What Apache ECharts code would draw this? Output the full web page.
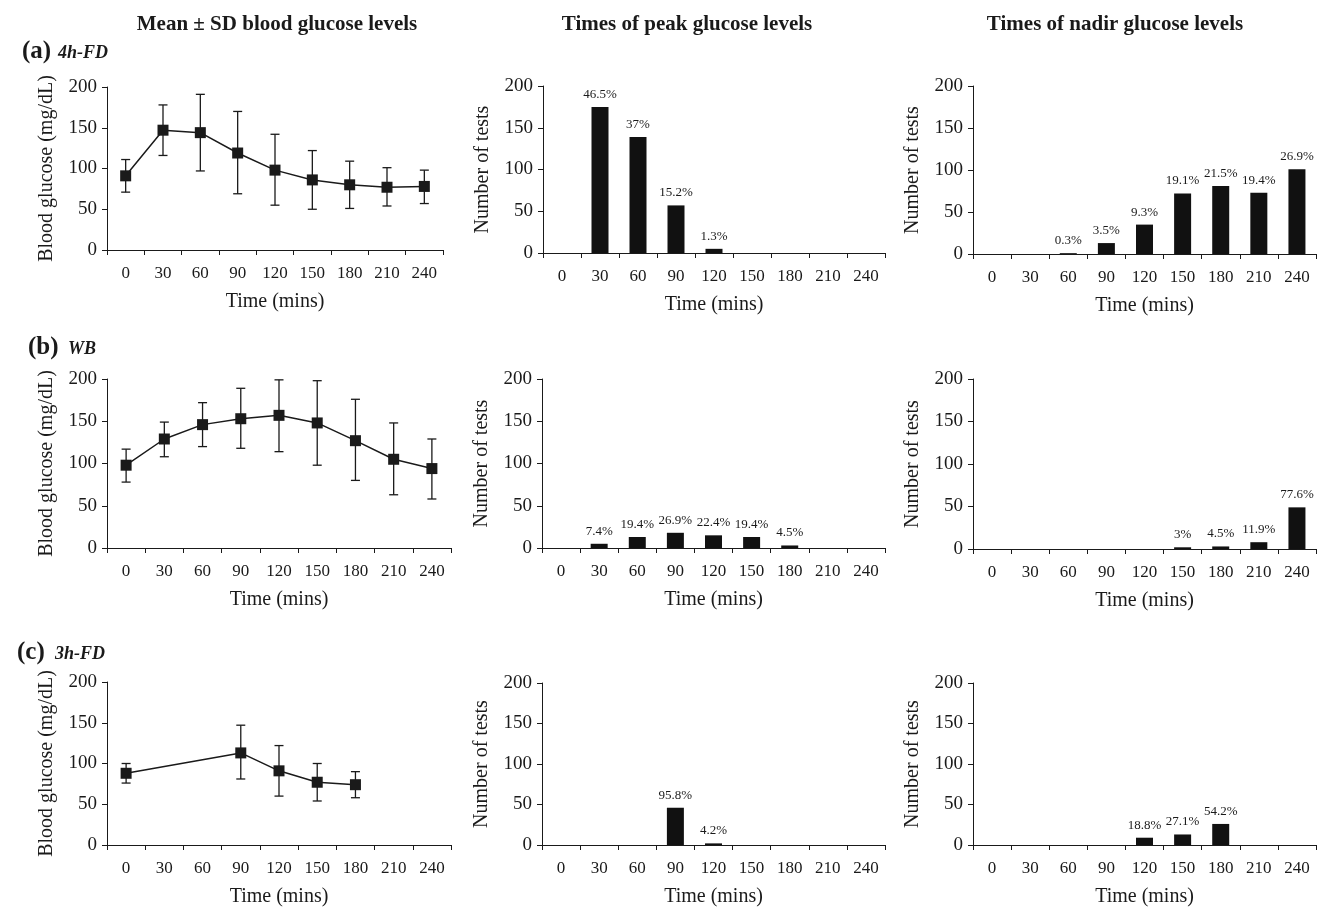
<!DOCTYPE html>
<html>
<head>
<meta charset="utf-8">
<script src="https://cdn.jsdelivr.net/npm/echarts@6/dist/echarts.min.js"></script>
<style>
html,body{margin:0;padding:0;background:#fff;}
#chart{width:1322px;height:908px;}
</style>
</head>
<body>
<div id="chart"></div>
<script>
// ---- Data ----
const timeLabels = ['0','30','60','90','120','150','180','210','240'];
const yTicks = [0, 50, 100, 150, 200];

// (a) 4h-FD mean ± SD
const fd4Mean = [91, 147, 144, 119, 98, 86, 80, 77, 78];
const fd4Low  = [71, 116, 97, 69, 55, 50, 51, 54, 57];
const fd4High = [111, 178, 191, 170, 142, 122, 109, 101, 98];
const fd4Peak = [null, 175, 139, 57, 5, null, null, null, null];
const fd4PeakPct = ['', '46.5%', '37%', '15.2%', '1.3%', '', '', '', ''];
const fd4Nadir = [null, null, 1, 13, 35, 72, 81, 73, 101];
const fd4NadirPct = ['', '', '0.3%', '3.5%', '9.3%', '19.1%', '21.5%', '19.4%', '26.9%'];

// (b) WB
const wbMean = [98, 129, 146, 153, 157, 148, 127, 105, 94];
const wbLow  = [78, 108, 120, 118, 114, 98, 80, 63, 58];
const wbHigh = [117, 149, 172, 189, 199, 198, 176, 148, 129];
const wbPeak = [null, 5, 13, 18, 15, 13, 3, null, null];
const wbPeakPct = ['', '7.4%', '19.4%', '26.9%', '22.4%', '19.4%', '4.5%', '', ''];
const wbNadir = [null, null, null, null, null, 2, 3, 8, 49];
const wbNadirPct = ['', '', '', '', '', '3%', '4.5%', '11.9%', '77.6%'];

// (c) 3h-FD
const fd3Mean = [88, null, null, 113, 91, 77, 74, null, null];
const fd3Low  = [76, null, null, 81, 60, 54, 58, null, null];
const fd3High = [100, null, null, 147, 122, 100, 90, null, null];
const fd3Peak = [null, null, null, 46, 2, null, null, null, null];
const fd3PeakPct = ['', '', '', '95.8%', '4.2%', '', '', '', ''];
const fd3Nadir = [null, null, null, null, 9, 13, 26, null, null];
const fd3NadirPct = ['', '', '', '', '18.8%', '27.1%', '54.2%', '', ''];

const colTitles = ['Mean \u00B1 SD blood glucose levels', 'Times of peak glucose levels', 'Times of nadir glucose levels'];
const rowLabels = [['(a)', '4h-FD'], ['(b)', 'WB'], ['(c)', '3h-FD']];

// ---- Layout ----
const FONT = '"Liberation Serif", "Times New Roman", serif';
const INK = '#1a1a1a';
const grids = [
  {left:107, top:87,  width:336, height:163},
  {left:543, top:86,  width:342, height:167},
  {left:973, top:86,  width:343, height:168},
  {left:107, top:379, width:344, height:169},
  {left:542, top:379, width:343, height:169},
  {left:973, top:379, width:343, height:170},
  {left:107, top:682, width:344, height:170},
  {left:542, top:683, width:343, height:167},
  {left:973, top:683, width:343, height:168}
];

const xAxes = grids.map((g, i) => ({
  type:'category', gridIndex:i, data:timeLabels, boundaryGap:true,
  axisLine:{lineStyle:{color:INK, width:1}},
  axisTick:{show:true, interval:0, length:5, lineStyle:{color:INK, width:1}},
  axisLabel:{interval:0, color:INK, fontFamily:FONT, fontSize:17, margin:15},
  name:'Time (mins)', nameLocation:'middle', nameGap:42,
  nameTextStyle:{color:INK, fontFamily:FONT, fontSize:20},
  splitLine:{show:false}
}));
const yAxes = grids.map((g, i) => ({
  type:'value', gridIndex:i, min:yTicks[0], max:yTicks[yTicks.length-1], interval:50,
  axisLine:{show:true, lineStyle:{color:INK, width:1}},
  axisTick:{show:true, length:5, lineStyle:{color:INK, width:1}},
  axisLabel:{color:INK, fontFamily:FONT, fontSize:19, margin:10},
  splitLine:{show:false},
  name: (i % 3 === 0) ? 'Blood glucose (mg/dL)' : 'Number of tests',
  nameLocation:'middle', nameGap:50, nameRotate:90,
  nameTextStyle:{color:INK, fontFamily:FONT, fontSize:20}
}));

function errSeries(idx, lo, hi) {
  const data = [];
  lo.forEach((v, i) => { if (v != null) data.push([i, v, hi[i]]); });
  return {
    type:'custom', xAxisIndex:idx, yAxisIndex:idx, z:3,
    data: data, encode:{x:0, y:[1,2]},
    renderItem: function(params, api) {
      const x = api.value(0);
      const p1 = api.coord([x, api.value(2)]);
      const p2 = api.coord([x, api.value(1)]);
      const w = 4.5;
      const st = {stroke:INK, lineWidth:1.3};
      return {type:'group', children:[
        {type:'line', shape:{x1:p1[0], y1:p1[1], x2:p2[0], y2:p2[1]}, style:st},
        {type:'line', shape:{x1:p1[0]-w, y1:p1[1], x2:p1[0]+w, y2:p1[1]}, style:st},
        {type:'line', shape:{x1:p2[0]-w, y1:p2[1], x2:p2[0]+w, y2:p2[1]}, style:st}
      ]};
    }
  };
}
function lineSeries(idx, mean) {
  return {
    type:'line', xAxisIndex:idx, yAxisIndex:idx, z:4,
    data: mean.map(v => v == null ? '-' : v), connectNulls:true,
    symbol:'rect', symbolSize:11, showSymbol:true,
    lineStyle:{color:INK, width:1.5}, itemStyle:{color:INK},
    animation:false
  };
}
function barSeries(idx, vals, pct) {
  return {
    type:'bar', xAxisIndex:idx, yAxisIndex:idx, barWidth:17,
    data: vals.map(v => v == null ? '-' : v),
    itemStyle:{color:'#111'},
    label:{show:true, position:'top', distance:6, color:INK, fontFamily:FONT, fontSize:13,
      formatter: p => pct[p.dataIndex]},
    animation:false
  };
}

const series = [
  errSeries(0, fd4Low, fd4High), lineSeries(0, fd4Mean),
  barSeries(1, fd4Peak, fd4PeakPct), barSeries(2, fd4Nadir, fd4NadirPct),
  errSeries(3, wbLow, wbHigh), lineSeries(3, wbMean),
  barSeries(4, wbPeak, wbPeakPct), barSeries(5, wbNadir, wbNadirPct),
  errSeries(6, fd3Low, fd3High), lineSeries(6, fd3Mean),
  barSeries(7, fd3Peak, fd3PeakPct), barSeries(8, fd3Nadir, fd3NadirPct)
];

const titleX = [277, 687, 1115];
const rowPos = [
  {x:22, y:52, sx:58},
  {x:28, y:348, sx:68},
  {x:17, y:653, sx:55}
];
const graphic = [];
colTitles.forEach((t, i) => graphic.push({
  type:'text', x:titleX[i], y:25,
  style:{text:t, fill:INK, font:'bold 21px ' + FONT, textAlign:'center', textVerticalAlign:'middle'}
}));
rowLabels.forEach((r, i) => {
  graphic.push({type:'text', x:rowPos[i].x, y:rowPos[i].y,
    style:{text:r[0], fill:INK, font:'bold 25px ' + FONT, textAlign:'left', textVerticalAlign:'middle'}});
  graphic.push({type:'text', x:rowPos[i].sx, y:rowPos[i].y + 1,
    style:{text:r[1], fill:INK, font:'italic bold 18px ' + FONT, textAlign:'left', textVerticalAlign:'middle'}});
});

const chart = echarts.init(document.getElementById('chart'), null, {renderer:'canvas'});
chart.setOption({
  backgroundColor:'#fff',
  animation:false,
  grid: grids.map(g => Object.assign({containLabel:false}, g)),
  xAxis: xAxes,
  yAxis: yAxes,
  series: series,
  graphic: graphic
});
</script>
</body>
</html>
